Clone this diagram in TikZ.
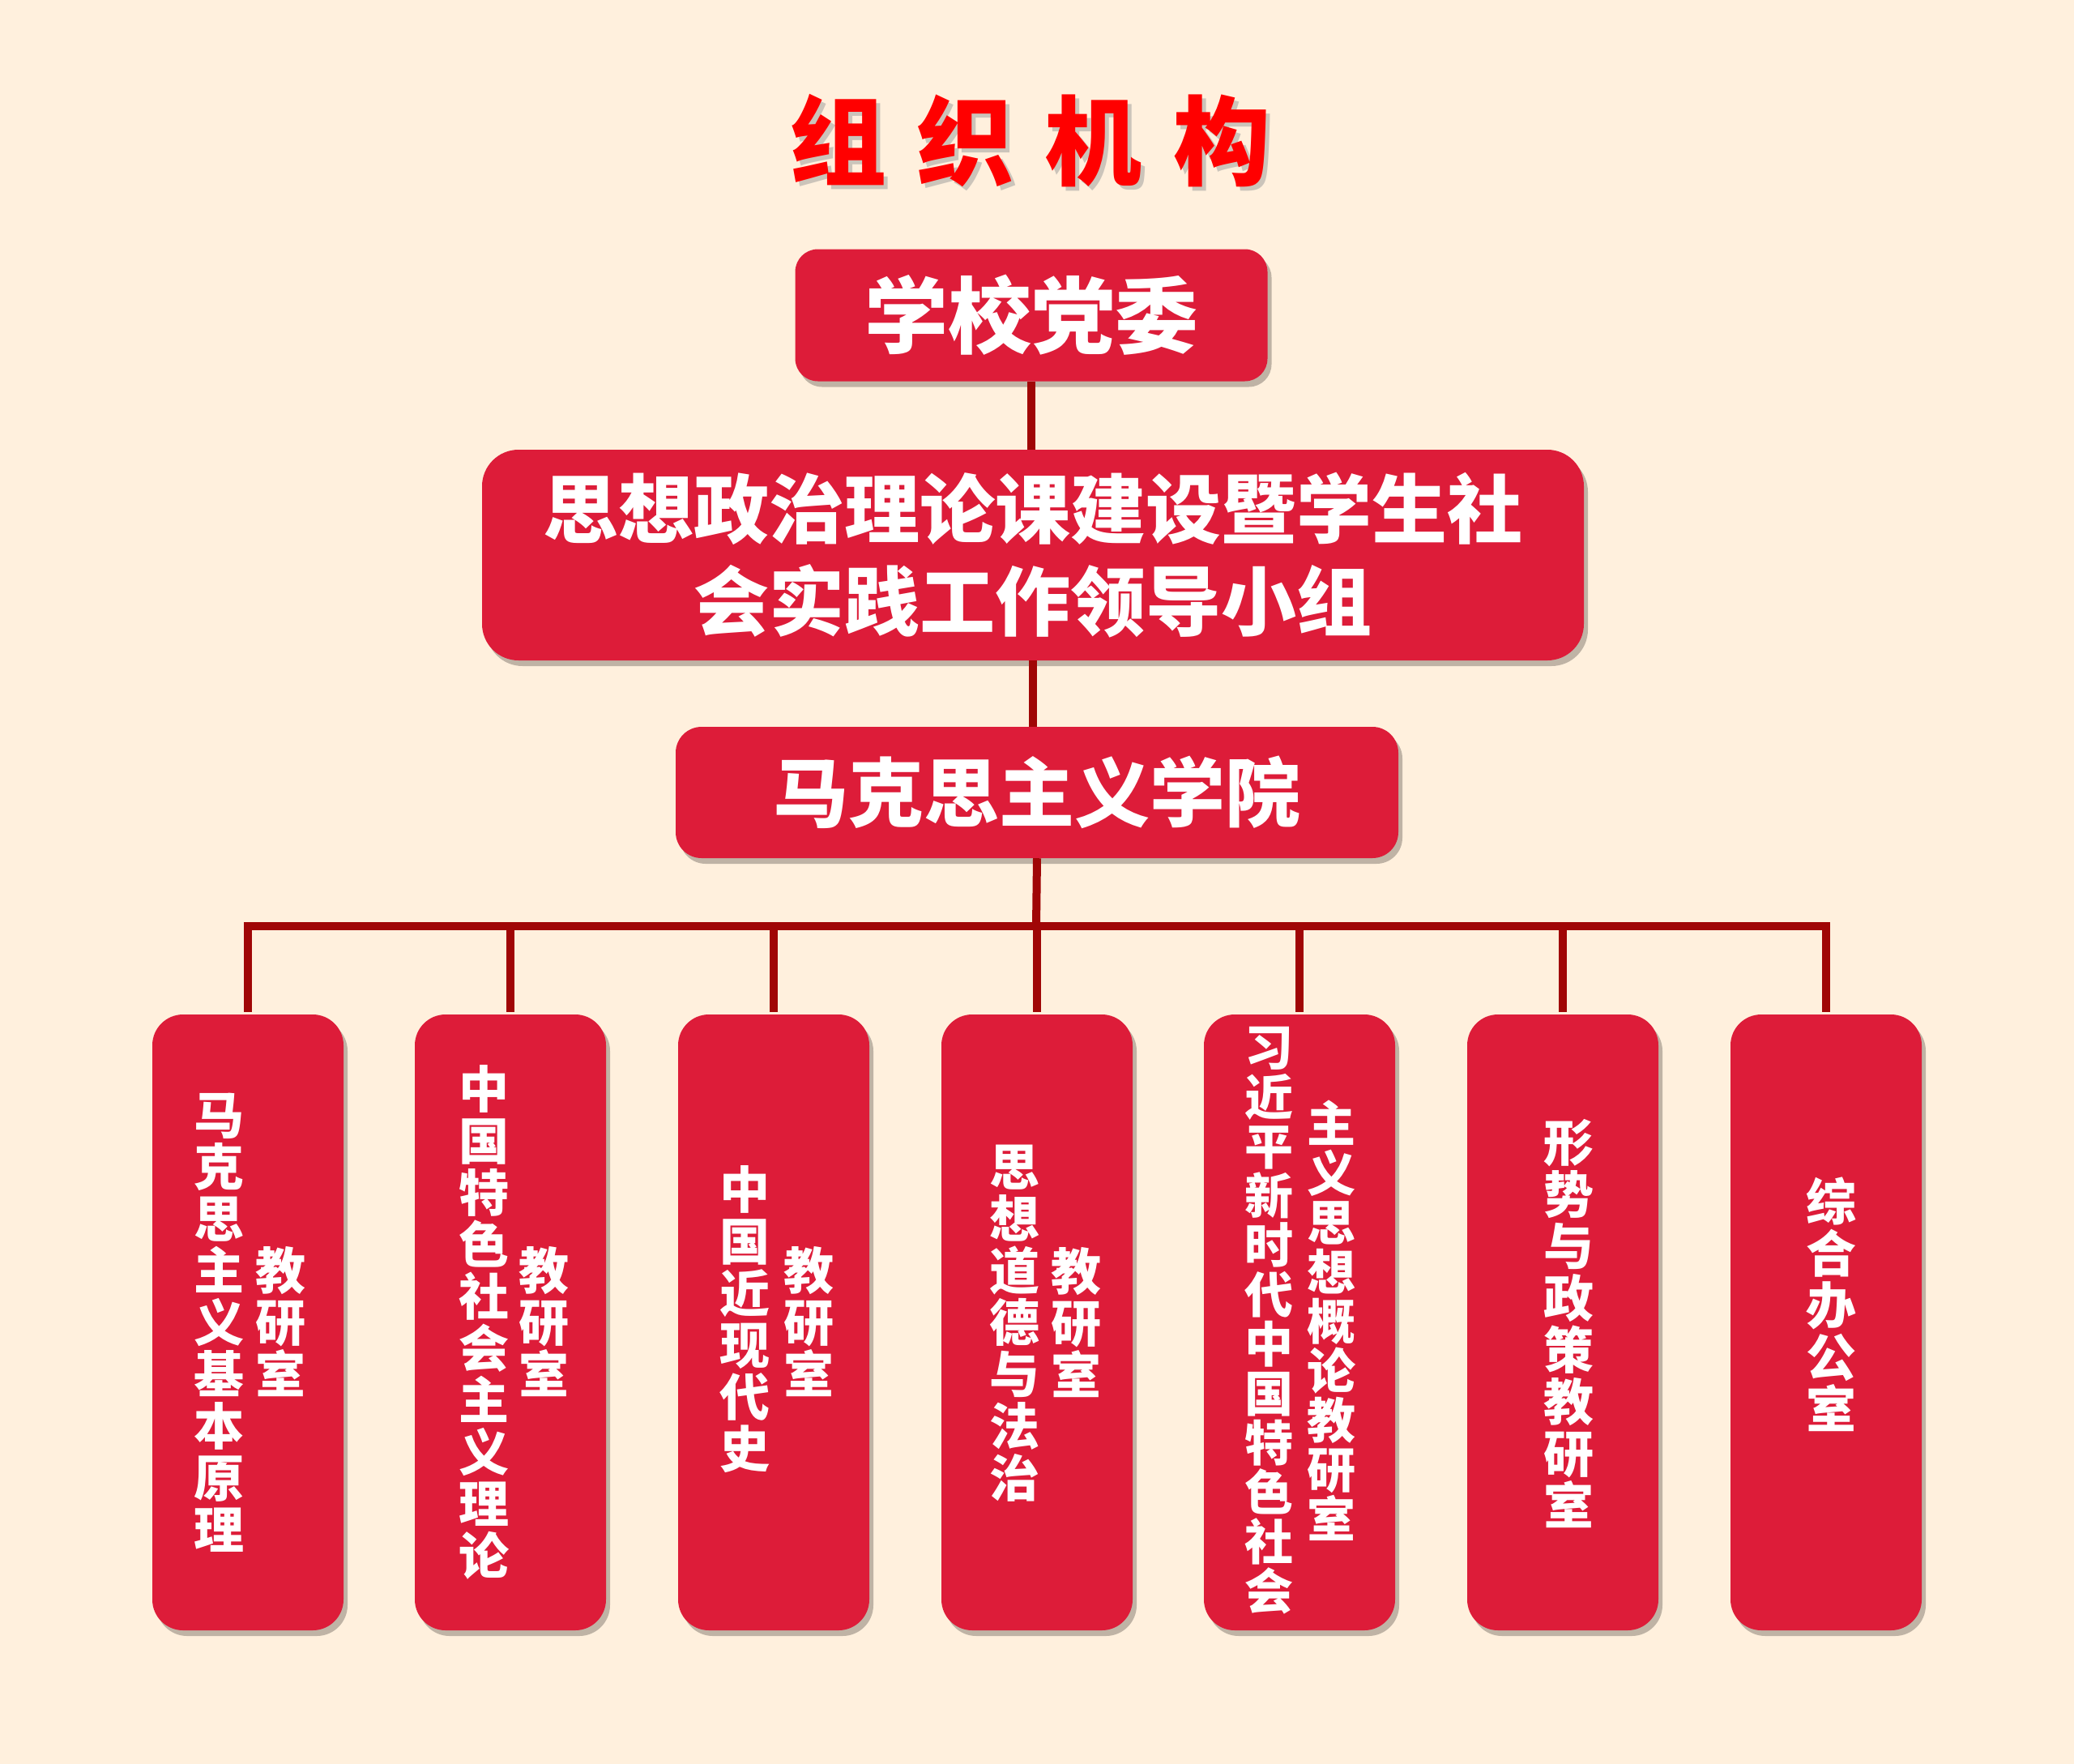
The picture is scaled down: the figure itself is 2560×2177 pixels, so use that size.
\documentclass[tikz,border=0pt]{standalone}
\usepackage{fontspec}
\newfontfamily\cjk{Noto Sans CJK SC}
\usetikzlibrary{shadows}
\definecolor{bg}{RGB}{255,240,221}
\definecolor{boxred}{RGB}{221,28,57}
\definecolor{linered}{RGB}{160,6,6}
\definecolor{titlered}{RGB}{255,0,0}
\tikzset{
  redbox/.style={fill=boxred, draw=none, inner sep=0pt, align=center, text=white,
    drop shadow={shadow xshift=5pt, shadow yshift=-7pt, opacity=0.25, fill=black}},
  topbox/.style={redbox, font=\cjk\bfseries},
  unitbox/.style={redbox, rounded corners=38pt, minimum width=236pt, minimum height=760pt},
  coltext/.style={text=white, inner sep=0pt, align=center, font=\cjk\bfseries\fontsize{62}{64}\selectfont},
  coltextb/.style={coltext, font=\cjk\bfseries\fontsize{60}{61}\selectfont},
  link/.style={draw=linered, line width=10pt},
  titletext/.style={inner sep=0pt, font=\cjk\bfseries\fontsize{120}{120}\selectfont},
}
\newcommand{\titlestr}{组\hspace{38pt}织\hspace{38pt}机\hspace{38pt}构}
\begin{document}
\begin{tikzpicture}[x=1pt,y=-1pt]
\fill[bg] (0,0) rectangle (2560,2177);
\useasboundingbox (0,0) rectangle (2560,2177);

% title
\node[titletext, text=black!40, opacity=0.5] (titleshadow) at (1276,179) {\titlestr};
\node[titletext, text=titlered] (title) at (1271,174) {\titlestr};

% top boxes
\node[topbox, rounded corners=28pt, minimum width=583pt, minimum height=163pt,
      font=\cjk\bfseries\fontsize{103}{103}\selectfont] (party) at (1273,389) {学校党委};
\node[topbox, rounded corners=45pt, minimum width=1360pt, minimum height=260pt,
      font=\cjk\bfseries\fontsize{93}{114}\selectfont] (group) at (1275,685)
      {思想政治理论课建设暨学生社\\会实践工作领导小组};
\node[topbox, rounded corners=32pt, minimum width=892pt, minimum height=162pt,
      font=\cjk\bfseries\fontsize{93}{93}\selectfont] (college) at (1280,978) {马克思主义学院};

% bottom boxes
\node[unitbox] (d1) at (306,1632) {};
\node[unitbox] (d2) at (630,1632) {};
\node[unitbox] (d3) at (955,1632) {};
\node[unitbox] (d4) at (1280,1632) {};
\node[unitbox] (d5) at (1604,1632) {};
\node[unitbox] (d6) at (1929,1632) {};
\node[unitbox] (d7) at (2254,1632) {};

\node[coltext] (d1a) at (270,1632) {马\\克\\思\\主\\义\\基\\本\\原\\理};
\node[coltext] (d1b) at (346,1631) {教\\研\\室};
\node[coltext] (d2a) at (597,1632) {中\\国\\特\\色\\社\\会\\主\\义\\理\\论};
\node[coltext] (d2b) at (671,1631) {教\\研\\室};
\node[coltext] (d3a) at (919,1628) {中\\国\\近\\现\\代\\史};
\node[coltext] (d3b) at (998,1631) {教\\研\\室};
\node[coltext] (d4a) at (1252,1633) {思\\想\\道\\德\\与\\法\\治};
\node[coltext] (d4b) at (1328,1632) {教\\研\\室};
\node[coltextb] (d5a) at (1566,1630) {习\\近\\平\\新\\时\\代\\中\\国\\特\\色\\社\\会};
\node[coltextb] (d5b) at (1643,1630) {主\\义\\思\\想\\概\\论\\教\\研\\室};
\node[coltext] (d6a) at (1936,1633) {形\\势\\与\\政\\策\\教\\研\\室};
\node[coltext] (d7a) at (2260,1610) {综\\合\\办\\公\\室};

% connectors
\draw[link] (party.south) -- (party.south |- group.north);
\draw[link] (group.south) -- (group.south |- college.north);
\coordinate (bus) at (1279,1143);
\draw[link] (college.south) -- (bus);
\draw[link, line cap=rect] (d1.north |- bus) -- (d7.north |- bus);
\foreach \i in {1,...,7} {
  \draw[link] (d\i.north |- bus) -- ([yshift=3pt]d\i.north);
}
\end{tikzpicture}
\end{document}
